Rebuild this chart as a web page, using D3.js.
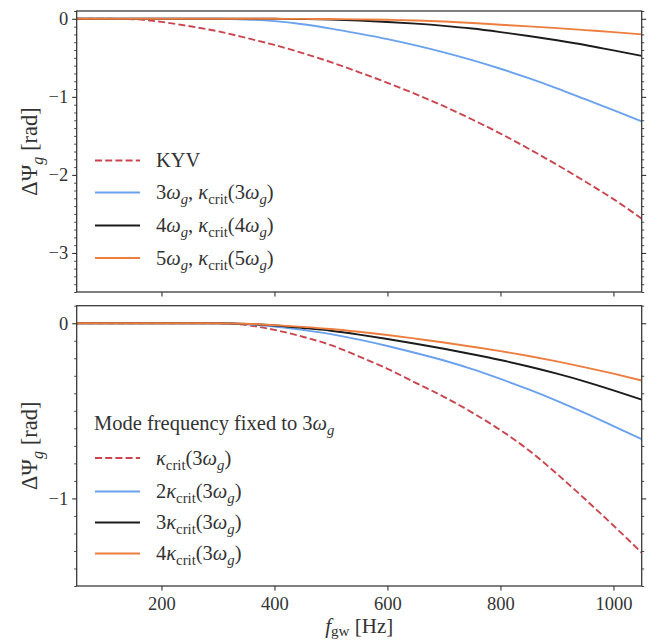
<!DOCTYPE html>
<html><head><meta charset="utf-8">
<script src="https://cdn.jsdelivr.net/npm/d3@7"></script>
<style>
html,body{margin:0;padding:0;background:#fff;}
svg text{font-family:"Liberation Serif","Times New Roman",serif;fill:#333;}
</style></head>
<body><svg id="c" width="654" height="642"></svg>
<script>
// ---- data ----
const freq = [50,100,150,200,250,300,350,400,450,500,550,600,650,700,750,800,850,900,950,1000,1050];

// top panel
const topKYV = [0,0,-0.005,-0.04,-0.095,-0.16,-0.245,-0.335,-0.44,-0.555,-0.685,-0.82,-0.965,-1.12,-1.29,-1.47,-1.665,-1.87,-2.085,-2.31,-2.56];
const top3w  = [0,0,0,0,0,0,-0.008,-0.03,-0.07,-0.125,-0.19,-0.26,-0.34,-0.43,-0.53,-0.64,-0.76,-0.89,-1.03,-1.17,-1.315];
const top4w  = [0,0,0,0,0,0,0,0,-0.003,-0.01,-0.022,-0.04,-0.062,-0.09,-0.125,-0.17,-0.22,-0.275,-0.335,-0.405,-0.475];
const top5w  = [0,0,0,0,0,0,0,0,-0.001,-0.003,-0.007,-0.013,-0.022,-0.035,-0.054,-0.076,-0.097,-0.12,-0.145,-0.17,-0.20];

// bottom panel
const bot1k  = [0,0,0,0,0,0,-0.01,-0.038,-0.077,-0.125,-0.19,-0.26,-0.34,-0.42,-0.51,-0.61,-0.725,-0.86,-1.005,-1.155,-1.31];
const bot2k  = [0,0,0,0,0,0,-0.006,-0.019,-0.038,-0.062,-0.094,-0.13,-0.17,-0.213,-0.262,-0.318,-0.378,-0.443,-0.513,-0.587,-0.662];
const bot3k  = [0,0,0,0,0,0,-0.004,-0.013,-0.027,-0.043,-0.065,-0.09,-0.117,-0.146,-0.177,-0.21,-0.247,-0.288,-0.333,-0.383,-0.436];
const bot4k  = [0,0,0,0,0,0,-0.003,-0.011,-0.021,-0.033,-0.049,-0.067,-0.088,-0.11,-0.134,-0.159,-0.187,-0.218,-0.252,-0.288,-0.327];

const xTicks = [200,400,600,800,1000];
const topYTicks = [0,-1,-2,-3];
const botYTicks = [0,-1];

const RED="#c9464f", BLUE="#6aa2ee", BLACK="#1c1c1c", ORANGE="#ec7f3f";

// legend label segments
const W = {t:"ω",i:1}, G = {t:"g",i:1,sub:1}, K={t:"κ",i:1}, CR={t:"crit",sub:1};
const topSeries = [
  {v:topKYV, c:RED, dash:true, label:[{t:"KYV"}]},
  {v:top3w, c:BLUE, label:[{t:"3"},W,G,{t:", "},K,CR,{t:"(3"},W,G,{t:")"}]},
  {v:top4w, c:BLACK, label:[{t:"4"},W,G,{t:", "},K,CR,{t:"(4"},W,G,{t:")"}]},
  {v:top5w, c:ORANGE, label:[{t:"5"},W,G,{t:", "},K,CR,{t:"(5"},W,G,{t:")"}]},
];
const botSeries = [
  {v:bot1k, c:RED, dash:true, label:[K,CR,{t:"(3"},W,G,{t:")"}]},
  {v:bot2k, c:BLUE, label:[{t:"2"},K,CR,{t:"(3"},W,G,{t:")"}]},
  {v:bot3k, c:BLACK, label:[{t:"3"},K,CR,{t:"(3"},W,G,{t:")"}]},
  {v:bot4k, c:ORANGE, label:[{t:"4"},K,CR,{t:"(3"},W,G,{t:")"}]},
];

const svg = d3.select("#c");
const L = 76.7, R = 641.7;
const x = d3.scaleLinear().domain([50,1050]).range([L,R]);
const FS = 18.5, LFS = 20.5, AFS = 22.5;

function rich(sel, segs, fs, subShift){
  const sh = subShift===undefined ? 0.25 : subShift;
  let shifted = 0;
  segs.forEach(s=>{
    const sp = sel.append("tspan").text(s.t);
    if(s.i) sp.attr("font-style","italic");
    if(s.sub){
      sp.attr("font-size", fs*0.72);
      if(!shifted){ sp.attr("dy", fs*sh); shifted=1; }
    } else {
      sp.attr("font-size", fs);
      if(shifted){ sp.attr("dy", -fs*sh); shifted=0; }
    }
  });
}

function panel(top, bottom, ydom, yticks, series, legendY, legendTitle, showX){
  const y = d3.scaleLinear().domain(ydom).range([bottom, top]);
  const g = svg.append("g");
  const clipId = "clip"+Math.round(top);
  g.append("clipPath").attr("id",clipId).append("rect")
    .attr("x",L).attr("y",top).attr("width",R-L).attr("height",bottom-top);

  const minor = d3.range(Math.ceil(ydom[0]*10), Math.floor(ydom[1]*10)+1).map(d=>d/10)
    .filter(d=>!yticks.some(t=>Math.abs(t-d)<1e-9));
  const yl = d3.axisLeft(y).tickValues(yticks).tickFormat(d=>d<0?"\u2212"+(-d):d).tickSize(4.5).tickPadding(4);
  const gl = g.append("g").attr("transform",`translate(${L},0)`).call(yl);
  gl.select(".domain").remove();
  gl.selectAll("line").attr("stroke","#333").attr("stroke-width",1.1);
  gl.selectAll("text").attr("font-size",FS).attr("fill","#333").style("font-family","Liberation Serif");
  const glm = g.append("g").attr("transform",`translate(${L},0)`).call(d3.axisLeft(y).tickValues(minor).tickSize(2.5).tickFormat(""));
  glm.select(".domain").remove(); glm.selectAll("line").attr("stroke","#333").attr("stroke-width",0.9);
  const gr = g.append("g").attr("transform",`translate(${R},0)`).call(d3.axisRight(y).tickValues(yticks).tickSize(4.5).tickFormat(""));
  gr.select(".domain").remove(); gr.selectAll("line").attr("stroke","#333").attr("stroke-width",1.1);
  const grm = g.append("g").attr("transform",`translate(${R},0)`).call(d3.axisRight(y).tickValues(minor).tickSize(2.5).tickFormat(""));
  grm.select(".domain").remove(); grm.selectAll("line").attr("stroke","#333").attr("stroke-width",0.9);
  const xa = d3.axisBottom(x).tickValues(xTicks).tickSize(4.5).tickPadding(6).tickFormat(showX ? d3.format("d") : "");
  const gb = g.append("g").attr("transform",`translate(0,${bottom})`).call(xa);
  gb.select(".domain").remove(); gb.selectAll("line").attr("stroke","#333").attr("stroke-width",1.1);
  gb.selectAll("text").attr("font-size",FS).attr("fill","#333").style("font-family","Liberation Serif");

  const line = d3.line().x((d,i)=>x(freq[i])).y(d=>y(d)).curve(d3.curveMonotoneX);
  const lg = g.append("g").attr("clip-path",`url(#${clipId})`);
  series.forEach(s=>{
    lg.append("path").datum(s.v).attr("d",line).attr("fill","none")
      .attr("stroke",s.c).attr("stroke-width",1.9)
      .attr("stroke-dasharray", s.dash? "7,3.2" : null);
  });

  g.append("rect").attr("x",L).attr("y",top).attr("width",R-L).attr("height",bottom-top)
    .attr("fill","none").attr("stroke","#333").attr("stroke-width",1.25);

  if(legendTitle){
    const t = g.append("text").attr("x",94).attr("y",legendTitle.y+6.5);
    rich(t, legendTitle.segs, LFS);
  }
  series.forEach((s,i)=>{
    const ly = legendY[i];
    g.append("line").attr("x1",95).attr("x2",140).attr("y1",ly).attr("y2",ly)
      .attr("stroke",s.c).attr("stroke-width",1.9).attr("stroke-dasharray", s.dash? "7,3.2" : null);
    const t = g.append("text").attr("x",156).attr("y",ly+6.5);
    rich(t, s.label, LFS);
  });

  const yc = (top+bottom)/2;
  const yt = g.append("text").attr("transform",`translate(37,${yc}) rotate(-90)`).attr("text-anchor","middle");
  rich(yt, [{t:"ΔΨ"},{t:"g",i:1,sub:1},{t:" [rad]"}], AFS);
}

panel(11, 292, [-3.5, 0.1], topYTicks, topSeries, [160.5, 192.5, 225.5, 258], null, false);
panel(305.7, 586, [-1.5, 0.1], botYTicks, botSeries, [458, 491.5, 522.5, 553.5],
  {y:423, segs:[{t:"Mode frequency fixed to 3"},W,G]}, true);

const xl = svg.append("text").attr("x",(L+R)/2).attr("y",633).attr("text-anchor","middle");
rich(xl, [{t:"f",i:1},{t:"gw",sub:1},{t:" [Hz]"}], 21, 0.15);
</script></body></html>
